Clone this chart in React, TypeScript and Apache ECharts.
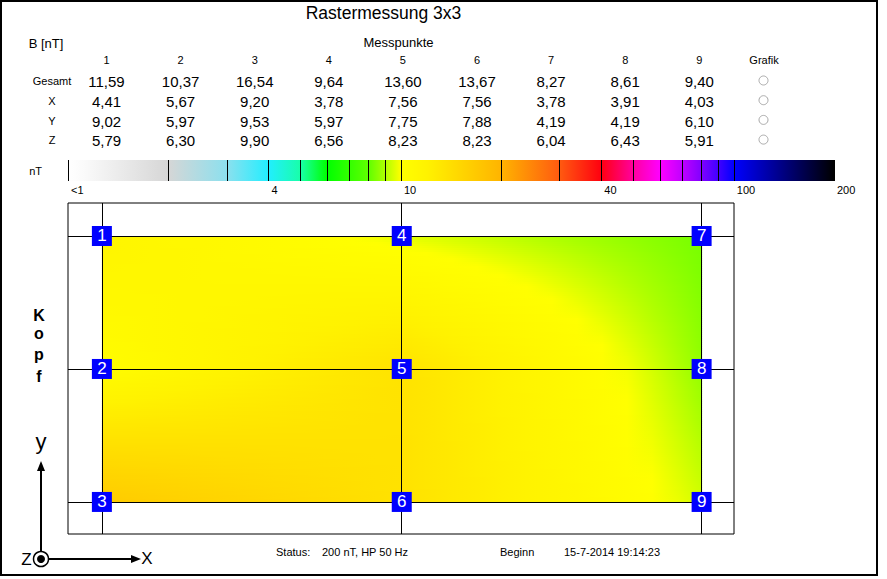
import React, { useEffect, useRef } from 'react';
import * as echarts from 'echarts';

const FONT = '"Liberation Sans", Arial, sans-serif';

const chartTitle = 'Rastermessung 3x3';
const pointLabels = ['1', '2', '3', '4', '5', '6', '7', '8', '9'];
const gesamt = [11.59, 10.37, 16.54, 9.64, 13.6, 13.67, 8.27, 8.61, 9.4];
const bx = [4.41, 5.67, 9.2, 3.78, 7.56, 7.56, 3.78, 3.91, 4.03];
const by = [9.02, 5.97, 9.53, 5.97, 7.75, 7.88, 4.19, 4.19, 6.1];
const bz = [5.79, 6.3, 9.9, 6.56, 8.23, 8.23, 6.04, 6.43, 5.91];
const rowNames = ['Gesamt', 'X', 'Y', 'Z'];
// grid position of each measuring point (column, row; row 0 = bottom)
const pointCol = [0, 0, 0, 1, 1, 1, 2, 2, 2];
const pointRow = [2, 1, 0, 2, 1, 0, 2, 1, 0];

const scaleTicks = [1, 2, 3, 4, 5, 6, 7, 8, 9, 10, 20, 30, 40, 50, 60, 70, 80, 90, 100, 200];
const scaleLabels = [1, 4, 10, 40, 100, 200];
const scaleStopValues = [1, 1.12, 2, 3, 4, 5, 6, 8, 9, 10, 12, 20, 30, 40, 50, 60, 70, 80, 90, 100, 200];
const scaleStopColors = [
  '#ffffff', '#fafafa', '#d6d6d6', '#8ce0ee', '#22eeff', '#18ffa8', '#00ff00', '#60ff00', '#b0ff00',
  '#ffff00', '#fff200', '#ffb400', '#ff5a10', '#ff0010', '#ff00a0', '#ff00ff', '#c000ff', '#8000ff',
  '#4000ff', '#0000ff', '#000000',
];
const scaleUnit = 'nT';

const statusLabel = 'Status:';
const statusText = '200 nT, HP 50 Hz';
const beginLabel = 'Beginn';
const beginText = '15-7-2014 19:14:23';
const sideLabel = ['K', 'o', 'p', 'f'];

const L = (v: number) => Math.log10(v);
const rgb = (h: string) => [parseInt(h.slice(1, 3), 16), parseInt(h.slice(3, 5), 16), parseInt(h.slice(5, 7), 16)];
const stopRgb = scaleStopColors.map(rgb);
const stopLog = scaleStopValues.map(L);

function colorAt(v: number): string {
  const lv = L(Math.max(1, Math.min(200, v)));
  let i = 0;
  while (i < stopLog.length - 2 && lv > stopLog[i + 1]) i++;
  const t = (lv - stopLog[i]) / (stopLog[i + 1] - stopLog[i]);
  const a = stopRgb[i], b = stopRgb[i + 1];
  const c = a.map((x, k) => Math.round(x + (b[k] - x) * t));
  return `rgb(${c[0]},${c[1]},${c[2]})`;
}

function valueAt(c: number, r: number): number {
  for (let i = 0; i < gesamt.length; i++) if (pointCol[i] === c && pointRow[i] === r) return gesamt[i];
  return 1;
}

const fmt = (v: number) => v.toFixed(2).replace('.', ',');

function txt(text: string, x: number, baseline: number, size: number, align = 'center', weight = 'normal') {
  return {
    type: 'text',
    x,
    y: baseline - 0.3465 * size,
    silent: true,
    style: {
      text,
      fill: '#000',
      fontSize: size,
      fontFamily: FONT,
      fontWeight: weight,
      textAlign: align,
      textVerticalAlign: 'middle',
    },
  };
}

export default function App() {
  const ref = useRef<HTMLDivElement>(null);
  useEffect(() => {
    if (!ref.current) return;
    const chart = echarts.init(ref.current, undefined, { renderer: 'svg' });

    const maxLog = L(200);
    const barGradient = new echarts.graphic.LinearGradient(
      0, 0, 1, 0,
      scaleStopValues.map((v, i) => ({ offset: L(v) / maxLog, color: scaleStopColors[i] }))
    );

    const cells: number[][] = [];
    for (let c = 0; c < 2; c++) for (let r = 0; r < 2; r++) cells.push([c, r]);

    const colX = (i: number) => 106.5 + 74.1 * i;
    const rowBase = (j: number) => 87 + 19.7 * j;

    const graphics: any[] = [];
    graphics.push({
      type: 'rect', silent: true,
      shape: { x: 1, y: 1, width: 876, height: 574 },
      style: { fill: 'none', stroke: '#000', lineWidth: 2 },
    });
    graphics.push(txt(chartTitle, 383.5, 19, 17.5));
    graphics.push(txt('B [nT]', 46, 48, 13));
    graphics.push(txt('Messpunkte', 398.5, 47, 13));
    pointLabels.forEach((p, i) => graphics.push(txt(p, colX(i), 64, 11)));
    graphics.push(txt('Grafik', 764, 64, 11));
    const rows = [gesamt, bx, by, bz];
    rows.forEach((arr, j) => {
      graphics.push(txt(rowNames[j], 52, rowBase(j) - 2, 11));
      arr.forEach((v, i) => graphics.push(txt(fmt(v), colX(i), rowBase(j), 15)));
      graphics.push({
        type: 'circle', silent: true,
        shape: { cx: 763.5, cy: rowBase(j) - 6.5, r: 4.5 },
        style: { fill: '#fff', stroke: '#a8a8a8', lineWidth: 1 },
      });
    });
    sideLabel.forEach((s, i) => graphics.push(txt(s, 39, [321, 339, 360, 382][i], 16, 'center', 'bold')));
    // coordinate symbol
    graphics.push({ type: 'line', silent: true, shape: { x1: 41, y1: 551, x2: 41, y2: 470 }, style: { stroke: '#000', lineWidth: 2 } });
    graphics.push({ type: 'polygon', silent: true, shape: { points: [[41, 461], [37, 471], [45, 471]] }, style: { fill: '#000' } });
    graphics.push({ type: 'line', silent: true, shape: { x1: 49, y1: 559, x2: 133, y2: 559 }, style: { stroke: '#000', lineWidth: 2 } });
    graphics.push({ type: 'polygon', silent: true, shape: { points: [[141, 559], [131, 555], [131, 563]] }, style: { fill: '#000' } });
    graphics.push({ type: 'circle', silent: true, shape: { cx: 41, cy: 559, r: 7.5 }, style: { fill: '#fff', stroke: '#000', lineWidth: 1.5 } });
    graphics.push({ type: 'circle', silent: true, shape: { cx: 41, cy: 559, r: 4 }, style: { fill: '#000' } });
    graphics.push(txt('y', 41, 449.5, 22));
    graphics.push(txt('Z', 26.5, 565, 17));
    graphics.push(txt('X', 147, 564.5, 17));
    // status line
    graphics.push(txt(statusLabel, 276, 556, 11, 'left'));
    graphics.push(txt(statusText, 322, 556, 11, 'left'));
    graphics.push(txt(beginLabel, 500, 556, 11, 'left'));
    graphics.push(txt(beginText, 564, 556, 11, 'left'));

    chart.setOption({
      animation: false,
      textStyle: { fontFamily: FONT },
      grid: [
        { left: 68, top: 203, width: 666, height: 331, show: true, borderColor: '#000', borderWidth: 1, backgroundColor: 'transparent' },
        { left: 68, top: 160, width: 766, height: 21 },
      ],
      xAxis: [
        { type: 'value', gridIndex: 0, min: -0.113, max: 2.108, show: false },
        {
          type: 'log', gridIndex: 1, min: 1, max: 200, logBase: 10, z: 10,
          axisLine: { show: false },
          splitLine: { show: false },
          axisTick: { show: true, inside: true, length: 21, lineStyle: { color: '#000', width: 1 }, customValues: scaleTicks },
          axisLabel: {
            customValues: scaleLabels,
            formatter: (v: number) => (Math.abs(v - 1) < 1e-6 ? '<1' : String(Math.round(v))),
            align: 'left', margin: 3, padding: [0, 0, 0, 3], fontSize: 11, color: '#000', fontFamily: FONT,
          },
        },
      ],
      yAxis: [
        { type: 'value', gridIndex: 0, min: -0.241, max: 2.248, show: false },
        {
          type: 'category', gridIndex: 1, data: [scaleUnit],
          axisLine: { show: false }, axisTick: { show: false },
          axisLabel: { margin: 26, fontSize: 11, color: '#000', fontFamily: FONT },
        },
      ],
      series: [
        {
          type: 'bar', xAxisIndex: 1, yAxisIndex: 1, data: [200], barWidth: '100%', silent: true,
          itemStyle: { color: barGradient }, z: 1,
        },
        {
          type: 'custom', xAxisIndex: 0, yAxisIndex: 0, data: cells, silent: true, z: 1,
          renderItem: (params: any, api: any) => {
            const c = api.value(0), r = api.value(1);
            const p0 = api.coord([c, r + 1]);
            const p1 = api.coord([c + 1, r]);
            const x0 = p0[0], y0 = p0[1], x1 = p1[0], y1 = p1[1];
            const vTL = valueAt(c, r + 1), vTR = valueAt(c + 1, r + 1);
            const vBL = valueAt(c, r), vBR = valueAt(c + 1, r);
            const h = 2;
            const n = Math.ceil((y1 - y0) / h);
            const children: any[] = [];
            for (let k = 0; k < n; k++) {
              const ya = y0 + k * h;
              const yb = Math.min(y1, ya + h);
              const t = ((ya + yb) / 2 - y0) / (y1 - y0);
              const vL = vTL + (vBL - vTL) * t;
              const vR = vTR + (vBR - vTR) * t;
              const stops = [];
              for (let s = 0; s <= 12; s++) stops.push({ offset: s / 12, color: colorAt(vL + ((vR - vL) * s) / 12) });
              children.push({
                type: 'rect',
                shape: { x: x0, y: ya, width: x1 - x0 + 0.5, height: yb - ya + 0.6 },
                style: { fill: new echarts.graphic.LinearGradient(0, 0, 1, 0, stops) },
              });
            }
            return { type: 'group', children };
          },
        },
        {
          type: 'line', xAxisIndex: 0, yAxisIndex: 0, data: [], z: 3, silent: true,
          markLine: {
            silent: true, symbol: ['none', 'none'], label: { show: false },
            lineStyle: { color: '#000', width: 1, type: 'solid' },
            emphasis: { disabled: true },
            data: [{ xAxis: 0 }, { xAxis: 1 }, { xAxis: 2 }, { yAxis: 0 }, { yAxis: 1 }, { yAxis: 2 }],
          },
        },
        {
          type: 'scatter', xAxisIndex: 0, yAxisIndex: 0, z: 5, silent: true,
          symbol: 'rect', symbolSize: 20,
          itemStyle: { color: '#0000ff', opacity: 1 },
          label: { show: true, position: 'inside', formatter: '{b}', color: '#fff', fontSize: 17, fontFamily: FONT },
          data: pointLabels.map((p, i) => ({ name: p, value: [pointCol[i], pointRow[i]] })),
        },
      ],
      graphic: graphics,
    });
    return () => chart.dispose();
  }, []);
  return <div ref={ref} style={{ position: 'absolute', left: 0, top: 0, width: 887, height: 579, background: '#fff' }} />;
}
